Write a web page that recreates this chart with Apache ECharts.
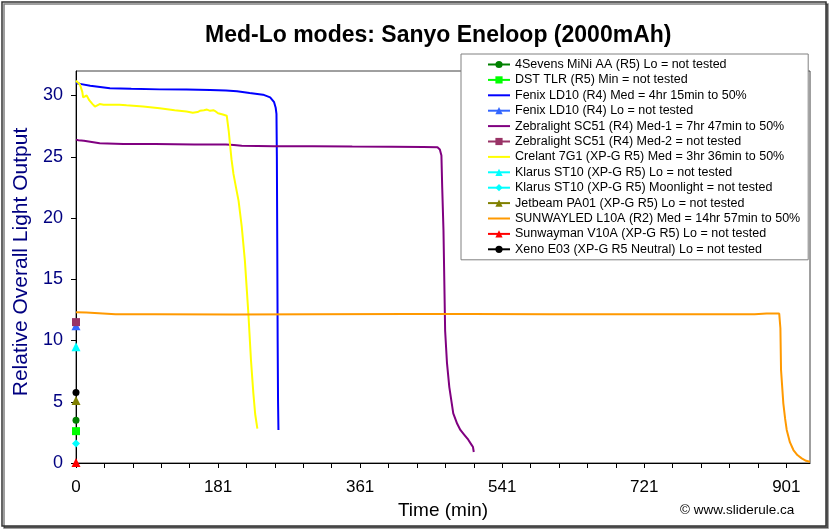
<!DOCTYPE html>
<html>
<head>
<meta charset="utf-8">
<script src="https://cdn.jsdelivr.net/npm/echarts@6/dist/echarts.min.js"></script>
<style>
html,body{margin:0;padding:0;background:#fff;}
#c{width:833px;height:530px;}
</style>
</head>
<body>
<div id="c"></div>
<script>
// ---- data (time in minutes, relative output) ----
var titleText = 'Med-Lo modes: Sanyo Eneloop (2000mAh)';
var xName = 'Time (min)';
var yName = 'Relative Overall Light Output';
var xTickValues = [0,36,72,108,144,180,216,252,288,324,360,396,432,468,504,540,576,612,648,684,720,756,792,828,864,900];
var xLabelValues = [0,180,360,540,720,900];
var xTickLabels = ['0','181','361','541','721','901'];
var yTickValues = [0,5,10,15,20,25,30];

var seriesNames = [
  '4Sevens MiNi AA (R5) Lo = not tested',
  'DST TLR (R5) Min = not tested',
  'Fenix LD10 (R4) Med = 4hr 15min to 50%',
  'Fenix LD10 (R4) Lo = not tested',
  'Zebralight SC51 (R4) Med-1 = 7hr 47min to 50%',
  'Zebralight SC51 (R4) Med-2 = not tested',
  'Crelant 7G1 (XP-G R5) Med = 3hr 36min to 50%',
  'Klarus ST10 (XP-G R5) Lo = not tested',
  'Klarus ST10 (XP-G R5) Moonlight = not tested',
  'Jetbeam PA01 (XP-G R5) Lo = not tested',
  'SUNWAYLED L10A (R2) Med = 14hr 57min to 50%',
  'Sunwayman V10A (XP-G R5) Lo = not tested',
  'Xeno E03 (XP-G R5 Neutral) Lo = not tested'
];

var fourSevens = [[0,3.5]];
var dstTlr = [[0,2.6]];
var fenixMed = [[0,31.0],[5,30.95],[18,30.8],[43,30.6],[70,30.55],[106,30.5],[140,30.48],[170,30.45],[190,30.4],[204,30.35],[220,30.2],[237,30.07],[246,29.85],[251,29.45],[253,29.0],[254,28.5],[254.5,25],[255,18],[255.5,10],[256,5],[256.5,2.7]];
var fenixLo = [[0,11.2]];
var zebraMed1 = [[0,26.4],[3,26.35],[10,26.3],[20,26.2],[30,26.1],[60,26.05],[100,26.05],[150,26.0],[190,26.0],[200,25.95],[210,25.9],[250,25.85],[300,25.85],[350,25.83],[400,25.82],[440,25.8],[458,25.78],[461,25.6],[463,25.1],[464,22.5],[465.6,19.0],[467.7,10.8],[470,8.2],[473,6.2],[478,4.05],[483,3.2],[487,2.7],[492,2.3],[497,1.9],[501,1.5],[503,1.3],[504,0.9]];
var zebraMed2 = [[0,11.5]];
var crelantMed = [[0,31.2],[2,31.1],[5,30.9],[7,30.8],[8,30.3],[9,29.85],[11,29.95],[13.5,30.0],[17,29.6],[21,29.3],[24,29.1],[27,29.2],[30,29.3],[35,29.25],[43,29.25],[55,29.25],[64,29.2],[85,29.1],[106,28.95],[125,28.8],[140,28.7],[148,28.6],[154,28.65],[157,28.75],[162,28.8],[166,28.85],[170,28.75],[174,28.8],[177,28.7],[180,28.55],[186,28.45],[191,28.35],[192.5,28.2],[193.5,27.1],[195,26.1],[197,24.8],[199.5,23.6],[203,22.4],[206,21.4],[210,19.3],[214,16.5],[218.4,12.2],[221.7,8.4],[224.7,5.7],[227,4.0],[229.8,2.8]];
var klarusLo = [[0,9.5]];
var klarusMoon = [[0,1.6]];
var jetbeamLo = [[0,5.1]];
var sunwayledMed = [[0,12.3],[13,12.28],[14,12.15],[50,12.15],[100,12.15],[200,12.12],[300,12.15],[420,12.17],[500,12.17],[600,12.15],[700,12.15],[800,12.15],[860,12.15],[875,12.2],[891,12.2],[892.5,11.0],[893.3,7.6],[896.2,4.87],[898.5,3.6],[900.5,2.7],[904.5,1.7],[909,1.06],[914,0.65],[919.5,0.38],[925,0.18],[930,0.1]];
var sunwaymanLo = [[0,0.05]];
var xenoLo = [[0,5.75]];

// ---- styling ----
var FONT = "'Liberation Sans', Arial, sans-serif";
var seriesData = [fourSevens, dstTlr, fenixMed, fenixLo, zebraMed1, zebraMed2, crelantMed, klarusLo, klarusMoon, jetbeamLo, sunwayledMed, sunwaymanLo, xenoLo];
var colors = ['#008000','#00FF00','#0000FF','#3366FF','#800080','#993366','#FFFF00','#00FFFF','#00FFFF','#808000','#FF9900','#FF0000','#000000'];
var symbols = ['circle','rect','none','triangle','none','rect','none','triangle','diamond','triangle','none','triangle','circle'];
var symSizes = [7,8,0,9,0,8,0,9,8,9,0,9,7];

var series = seriesNames.map(function(n,i){
  return {
    name: n,
    type: 'line',
    data: seriesData[i],
    color: colors[i],
    symbol: symbols[i],
    symbolSize: symSizes[i],
    showSymbol: symbols[i] !== 'none',
    lineStyle: {width: 2, color: colors[i]},
    itemStyle: {color: colors[i]},
    smooth: false,
    animation: false,
    silent: true,
    z: 2 + i * 0.01
  };
});

var legendData = seriesNames.map(function(n,i){
  var item = {name: n};
  if (symbols[i] === 'none') item.itemStyle = {opacity: 0};
  return item;
});

var chart = echarts.init(document.getElementById('c'), null, {renderer: 'canvas'});
chart.setOption({
  animation: false,
  backgroundColor: '#fff',
  textStyle: {fontFamily: FONT},
  title: {
    text: titleText,
    left: 205, top: 24, padding: 0,
    textStyle: {fontFamily: FONT, fontSize: 23, fontWeight: 'bold', color: '#000'}
  },
  legend: {
    orient: 'vertical',
    left: 461, top: 54,
    padding: [4, 8, 4, 26],
    itemWidth: 22, itemHeight: 9, itemGap: 2.4,
    backgroundColor: '#fff',
    borderColor: '#808080', borderWidth: 1,
    selectedMode: false,
    textStyle: {fontFamily: FONT, fontSize: 12.5, color: '#000'},
    data: legendData
  },
  grid: {
    left: 76, right: 23, top: 71, bottom: 67,
    show: true, borderColor: '#404040', borderWidth: 1, backgroundColor: '#fff'
  },
  xAxis: {
    type: 'value', min: 0, max: 930,
    name: xName, nameLocation: 'middle', nameGap: 36,
    nameTextStyle: {fontFamily: FONT, fontSize: 19, color: '#000'},
    axisLine: {show: true, onZero: false, lineStyle: {color: '#000', width: 1}},
    axisTick: {show: true, length: 5, lineStyle: {color: '#000'}, customValues: xTickValues},
    axisLabel: {
      customValues: xLabelValues, margin: 16,
      fontFamily: FONT, fontSize: 17, color: '#000',
      formatter: function(v){ var k = xLabelValues.indexOf(v); return k >= 0 ? xTickLabels[k] : ''; }
    },
    splitLine: {show: false}
  },
  yAxis: {
    type: 'value', min: 0, max: 32,
    name: yName, nameLocation: 'middle', nameGap: 44,
    nameTextStyle: {fontFamily: FONT, fontSize: 21, color: '#000080', padding: [0, 0, 0, 10]},
    axisLine: {show: true, onZero: false, lineStyle: {color: '#000', width: 1}},
    axisTick: {show: true, length: 5, lineStyle: {color: '#000'}, customValues: yTickValues},
    axisLabel: {customValues: yTickValues, margin: 13, fontFamily: FONT, fontSize: 18, color: '#000080'},
    splitLine: {show: false}
  },
  graphic: [
    {type: 'rect', silent: true, z: -10,
     shape: {x: 2, y: 2, width: 824, height: 524},
     style: {fill: '#fff', stroke: '#333', lineWidth: 1.5, shadowColor: 'rgba(0,0,0,0.5)', shadowOffsetX: 2, shadowOffsetY: 2, shadowBlur: 0}},
    {type: 'text', silent: true, z: 10, left: 680, top: 503,
     style: {text: '\u00A9 www.sliderule.ca', fontFamily: FONT, fontSize: 13.5, fill: '#000'}}
  ],
  series: series
});
</script>
</body>
</html>
